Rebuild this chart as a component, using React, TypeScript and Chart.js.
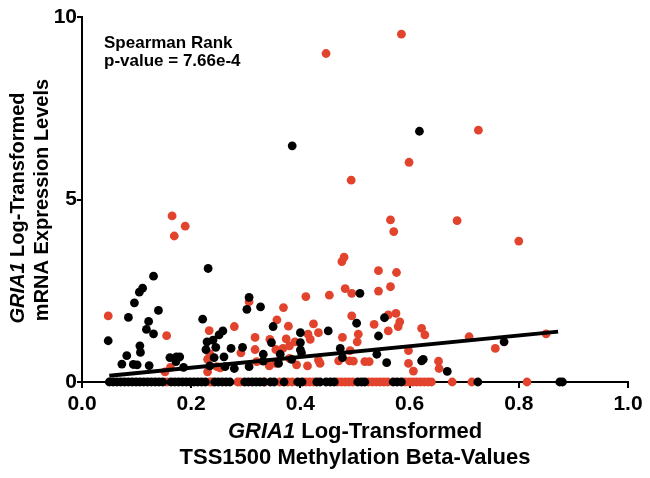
import React, { useEffect, useRef } from "react";
import { Chart, registerables } from "chart.js";

Chart.register(...registerables);

const RED = "#E2432C";
const BLACK = "#000000";
const FONT = "'Liberation Sans', Arial, sans-serif";

// Non-zero points, [beta, expression]
const blackPoints: [number, number][] = [
  [0.048, 1.13], [0.073, 0.49], [0.082, 0.72], [0.085, 1.77], [0.094, 0.48], [0.096, 2.17],
  [0.101, 0.47], [0.105, 2.46], [0.106, 0.99], [0.107, 0.81], [0.111, 2.57], [0.118, 1.44],
  [0.122, 1.66], [0.123, 0.45], [0.131, 1.32], [0.131, 2.9], [0.14, 1.96], [0.161, 0.67],
  [0.172, 0.56], [0.173, 0.69], [0.179, 0.69], [0.186, 0.4], [0.221, 1.72], [0.231, 3.11],
  [0.227, 0.89], [0.229, 1.1], [0.24, 1.15], [0.245, 0.95], [0.251, 1.29], [0.258, 1.4],
  [0.242, 0.67], [0.26, 0.69], [0.234, 0.44], [0.262, 0.42], [0.273, 0.92], [0.279, 0.37],
  [0.294, 0.95], [0.302, 1.99], [0.306, 2.32], [0.306, 0.42], [0.327, 2.06], [0.332, 0.76],
  [0.332, 0.57], [0.347, 1.08], [0.35, 1.52], [0.36, 0.51], [0.363, 0.76], [0.384, 0.62],
  [0.385, 6.47], [0.4, 1.35], [0.4, 1.08], [0.4, 0.88], [0.402, 0.8], [0.451, 1.4],
  [0.473, 0.92], [0.477, 0.67], [0.503, 1.61], [0.509, 2.43], [0.54, 0.76], [0.543, 1.26],
  [0.554, 1.76], [0.558, 0.53], [0.618, 6.87], [0.622, 0.58], [0.625, 0.62], [0.669, 0.29],
  [0.773, 1.1],
];

const redPoints: [number, number][] = [
  [0.048, 1.81], [0.152, 0.28], [0.155, 1.27], [0.162, 0.4], [0.165, 4.55], [0.169, 4.0],
  [0.189, 4.27], [0.23, 0.28], [0.23, 0.62], [0.233, 1.41], [0.234, 0.77], [0.247, 0.42],
  [0.253, 0.39], [0.279, 1.52], [0.291, 0.8], [0.306, 2.2], [0.317, 1.22], [0.317, 0.89],
  [0.32, 0.56], [0.343, 0.44], [0.344, 1.17], [0.355, 0.89], [0.355, 0.51], [0.357, 1.7],
  [0.368, 0.92], [0.369, 2.04], [0.374, 1.18], [0.378, 1.53], [0.38, 0.99], [0.38, 0.65],
  [0.39, 1.1], [0.393, 0.47], [0.41, 2.34], [0.413, 0.44], [0.414, 1.31], [0.418, 1.17],
  [0.424, 1.59], [0.433, 1.35], [0.433, 0.6], [0.436, 0.51], [0.447, 9.0], [0.453, 2.38],
  [0.47, 0.58], [0.476, 3.3], [0.477, 1.22], [0.48, 3.42], [0.482, 2.56], [0.49, 0.58],
  [0.491, 0.86], [0.493, 5.53], [0.494, 2.43], [0.494, 1.81], [0.497, 0.57], [0.504, 1.1],
  [0.506, 1.31], [0.518, 0.56], [0.526, 0.56], [0.535, 1.58], [0.543, 3.05], [0.543, 2.49],
  [0.561, 1.84], [0.561, 1.4], [0.565, 4.44], [0.565, 2.61], [0.571, 4.12], [0.575, 1.88],
  [0.576, 3.0], [0.579, 1.52], [0.582, 1.65], [0.585, 9.53], [0.598, 0.86], [0.598, 0.51],
  [0.599, 6.02], [0.607, 0.3], [0.622, 1.47], [0.628, 1.29], [0.653, 0.57], [0.654, 0.37],
  [0.687, 4.42], [0.709, 1.24], [0.726, 6.9], [0.757, 0.92], [0.8, 3.86], [0.85, 1.32],
];

// Points sitting at zero expression (beta values only)
const blackZeroX = [
  0.05, 0.057, 0.064, 0.071, 0.078, 0.085, 0.092, 0.099, 0.106, 0.113, 0.12, 0.127, 0.134,
  0.141, 0.148, 0.163, 0.17, 0.177, 0.184, 0.191, 0.198, 0.205, 0.212, 0.219, 0.226,
  0.243, 0.25, 0.257, 0.264, 0.271, 0.298, 0.305, 0.312, 0.319, 0.326, 0.333, 0.345, 0.352,
  0.37, 0.395, 0.403, 0.43, 0.436, 0.447, 0.455, 0.462, 0.505, 0.512, 0.518, 0.57, 0.577,
  0.585, 0.725, 0.875, 0.88,
];
const redZeroX = [
  0.155, 0.234, 0.238, 0.285, 0.29, 0.335, 0.362, 0.377, 0.385, 0.41, 0.417, 0.424, 0.468,
  0.475, 0.482, 0.489, 0.496, 0.525, 0.532, 0.539, 0.546, 0.553, 0.56, 0.592, 0.599, 0.606,
  0.613, 0.62, 0.627, 0.634, 0.64, 0.678, 0.714, 0.815,
];

// Linear fit endpoints
const fitX = [0.05, 0.872];
const fitY = [0.17, 1.38];

const xTicks = [0, 0.2, 0.4, 0.6, 0.8, 1.0];
const yTicks = [0, 5, 10];

const statLines = ["Spearman Rank", "p-value = 7.66e-4"];

export default function App() {
  const ref = useRef<HTMLCanvasElement>(null);

  useEffect(() => {
    document.body.style.margin = "0";
    const canvas = ref.current!;

    const drawMixed = (
      c: CanvasRenderingContext2D,
      parts: { t: string; i: boolean }[],
      size: number,
      cx: number,
      cy: number
    ) => {
      let total = 0;
      const widths = parts.map((p) => {
        c.font = `${p.i ? "italic " : ""}bold ${size}px ${FONT}`;
        const w = c.measureText(p.t).width;
        total += w;
        return w;
      });
      let x = cx - total / 2;
      c.textAlign = "left";
      c.textBaseline = "middle";
      parts.forEach((p, k) => {
        c.font = `${p.i ? "italic " : ""}bold ${size}px ${FONT}`;
        c.fillText(p.t, x, cy);
        x += widths[k];
      });
    };

    const bgPlugin = {
      id: "bg",
      beforeDraw(chart: any) {
        const c = chart.ctx;
        c.save();
        c.fillStyle = "#fff";
        c.fillRect(0, 0, chart.width, chart.height);
        c.restore();
      },
    };

    const titlePlugin = {
      id: "titles",
      afterDraw(chart: any) {
        const c: CanvasRenderingContext2D = chart.ctx;
        const a = chart.chartArea;
        c.save();
        c.fillStyle = "#000";
        const cx = (a.left + a.right) / 2;
        const l1 = [
          { t: "GRIA1", i: true },
          { t: " Log-Transformed", i: false },
        ];
        drawMixed(c, l1, 22, cx, 432);
        drawMixed(c, [{ t: "TSS1500 Methylation Beta-Values", i: false }], 22, cx, 458);

        c.save();
        c.translate(18, 208);
        c.rotate(-Math.PI / 2);
        drawMixed(c, l1, 20, 0, 0);
        c.restore();
        c.save();
        c.translate(42, 200);
        c.rotate(-Math.PI / 2);
        drawMixed(c, [{ t: "mRNA Expression Levels", i: false }], 20, 0, 0);
        c.restore();

        c.font = `bold 17px ${FONT}`;
        c.textAlign = "left";
        c.textBaseline = "alphabetic";
        c.fillText(statLines[0], 104, 48);
        c.fillText(statLines[1], 104, 66);
        c.restore();
      },
    };

    const chart = new Chart(canvas, {
      type: "scatter",
      data: {
        datasets: [
          {
            type: "line",
            data: fitX.map((x, k) => ({ x, y: fitY[k] })),
            borderColor: BLACK,
            borderWidth: 4,
            pointRadius: 0,
            fill: false,
            order: 0,
            clip: false,
          } as any,
          {
            data: [
              ...blackPoints.map(([x, y]) => ({ x, y })),
              ...blackZeroX.map((x) => ({ x, y: 0 })),
            ],
            backgroundColor: BLACK,
            borderWidth: 0,
            pointRadius: 4.4,
            order: 1,
            clip: false,
          },
          {
            data: [
              ...redPoints.map(([x, y]) => ({ x, y })),
              ...redZeroX.map((x) => ({ x, y: 0 })),
            ],
            backgroundColor: RED,
            borderWidth: 0,
            pointRadius: 4.4,
            order: 2,
            clip: false,
          },
        ],
      },
      options: {
        responsive: false,
        animation: false,
        layout: { padding: { left: 0, right: 22, top: 17, bottom: 0 } },
        plugins: { legend: { display: false }, tooltip: { enabled: false } },
        scales: {
          x: {
            type: "linear",
            min: 0,
            max: 1,
            afterBuildTicks: (s: any) => {
              s.ticks = xTicks.map((v) => ({ value: v }));
            },
            ticks: {
              callback: (v: any) => Number(v).toFixed(1),
              color: "#000",
              font: { size: 21, weight: "bold", family: FONT },
              padding: 4,
              maxRotation: 0,
            },
            grid: {
              display: true,
              drawOnChartArea: false,
              drawTicks: true,
              tickLength: 6,
              color: "#000",
              lineWidth: 2,
            },
            border: { display: true, color: "#000", width: 2 },
            afterFit: (s: any) => {
              s.height = 96;
            },
          },
          y: {
            type: "linear",
            min: 0,
            max: 10,
            afterBuildTicks: (s: any) => {
              s.ticks = yTicks.map((v) => ({ value: v }));
            },
            ticks: {
              color: "#000",
              font: { size: 21, weight: "bold", family: FONT },
              padding: 0,
            },
            grid: {
              display: true,
              drawOnChartArea: false,
              drawTicks: true,
              tickLength: 5,
              color: "#000",
              lineWidth: 2,
            },
            border: { display: true, color: "#000", width: 2 },
            afterFit: (s: any) => {
              s.width = 82;
            },
          },
        },
      } as any,
      plugins: [bgPlugin, titlePlugin],
    });

    return () => chart.destroy();
  }, []);

  return (
    <div style={{ width: 650, height: 478 }}>
      <canvas ref={ref} width={650} height={478} style={{ display: "block" }} />
    </div>
  );
}
